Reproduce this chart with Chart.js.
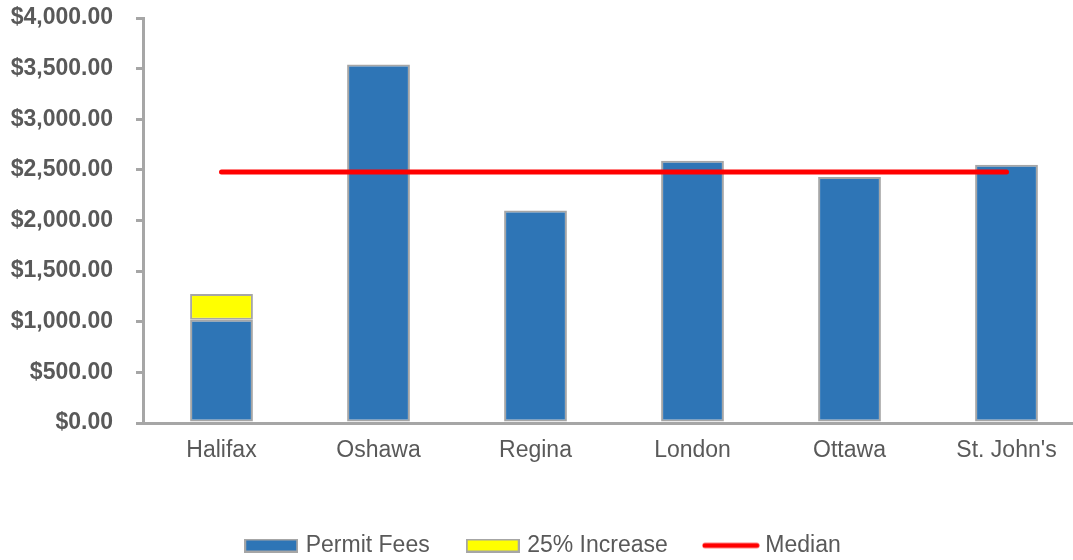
<!DOCTYPE html>
<html>
<head>
<meta charset="utf-8">
<script src="https://cdn.jsdelivr.net/npm/chart.js@4"></script>
<style>
  body { margin: 0; overflow: hidden; background: #fff; }
  #wrap { width: 1085px; height: 560px; }
</style>
</head>
<body>
<div id="wrap"><canvas id="feesChart"></canvas></div>
<script>
const cities = ["Halifax", "Oshawa", "Regina", "London", "Ottawa", "St. John's"];
const permitFees = [1020, 3540, 2100, 2590, 2430, 2550];
const increase = [255, 0, 0, 0, 0, 0];
const median = [2480, 2480, 2480, 2480, 2480, 2480];

const blue = "#2e75b6";
const yellow = "#ffff00";
const edge = "#a6a6a6";
const textGrey = "#595959";
const fontName = "Liberation Sans, Arial";

// little pictures for the legend boxes
function boxImage(fill) {
    const c = document.createElement("canvas");
    c.width = 54; c.height = 14;
    const g = c.getContext("2d");
    g.fillStyle = edge;
    g.fillRect(0, 0, 54, 14);
    g.fillStyle = fill;
    g.fillRect(2, 2, 50, 10);
    return c;
}

function lineImage() {
    const c = document.createElement("canvas");
    c.width = 58; c.height = 14;
    const g = c.getContext("2d");
    g.strokeStyle = "#ff0000";
    g.lineWidth = 5;
    g.lineCap = "round";
    g.beginPath();
    g.moveTo(3, 7);
    g.lineTo(55, 7);
    g.stroke();
    return c;
}

const legendPics = [boxImage(blue), boxImage(yellow), lineImage()];

const ctx = document.getElementById("feesChart").getContext("2d");
new Chart(ctx, {
    data: {
        labels: cities,
        datasets: [
            {
                type: "line",
                label: "Median",
                data: median,
                borderColor: "#ff0000",
                borderWidth: 5,
                borderCapStyle: "round",
                pointRadius: 0,
                stack: "median",
                order: 0
            },
            {
                type: "bar",
                label: "Permit Fees",
                data: permitFees,
                backgroundColor: blue,
                borderColor: edge,
                borderWidth: 2,
                borderSkipped: false,
                stack: "fees",
                order: 1
            },
            {
                type: "bar",
                label: "25% Increase",
                data: increase,
                backgroundColor: yellow,
                borderColor: edge,
                borderWidth: 2,
                borderSkipped: false,
                stack: "fees",
                order: 1
            }
        ]
    },
    options: {
        responsive: true,
        maintainAspectRatio: false,
        animation: false,
        layout: { padding: { left: 4, top: 18, right: 0, bottom: -7 } },
        datasets: { bar: { categoryPercentage: 1, barPercentage: 0.4 } },
        plugins: {
            tooltip: { enabled: false },
            legend: {
                position: "bottom",
                labels: {
                    usePointStyle: true,
                    pointStyleWidth: 46,
                    padding: 40,
                    color: textGrey,
                    font: { family: fontName, size: 23 },
                    generateLabels: () => ["Permit Fees", "25% Increase", "Median"].map((t, i) => ({
                        text: t,
                        pointStyle: legendPics[i],
                        fontColor: textGrey,
                        lineWidth: 0,
                        hidden: false,
                        datasetIndex: i
                    }))
                }
            }
        },
        scales: {
            x: {
                stacked: true,
                grid: { display: false, drawTicks: false },
                border: { color: edge, width: 3 },
                ticks: {
                    padding: 14,
                    color: textGrey,
                    font: { family: fontName, size: 23 }
                },
                afterFit: s => { s.height = 71; }
            },
            y: {
                stacked: true,
                min: 0,
                max: 4000,
                grid: { drawOnChartArea: false, tickLength: 7, color: edge, lineWidth: 3 },
                border: { color: edge, width: 3 },
                ticks: {
                    stepSize: 500,
                    padding: 23,
                    color: textGrey,
                    font: { family: fontName, size: 23, weight: "bold" },
                    callback: v => "$" + v.toLocaleString("en-US", { minimumFractionDigits: 2, maximumFractionDigits: 2 })
                },
                afterFit: s => { s.width = 139; s.paddingTop = 0; }
            }
        }
    }
});
</script>
</body>
</html>
